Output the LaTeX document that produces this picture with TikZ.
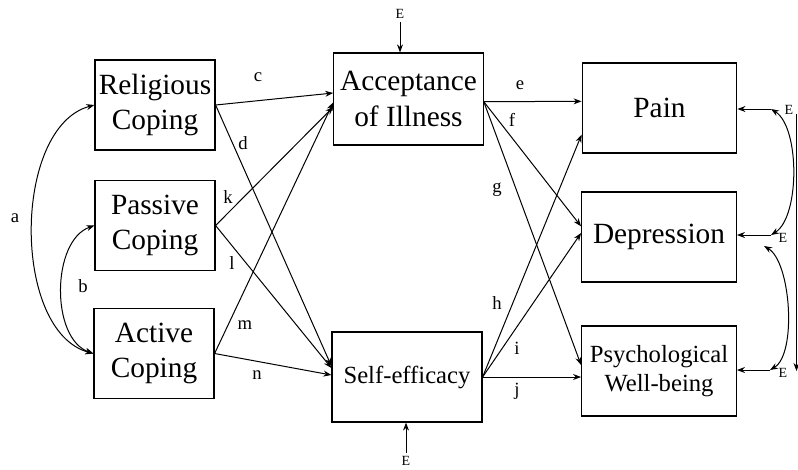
\documentclass[tikz,border=0pt]{standalone}
\usepackage{fontspec}
\setmainfont{Liberation Serif}
\usetikzlibrary{calc}
\usetikzlibrary{arrows,arrows.meta,shapes,positioning}
\tikzset{>={Stealth[length=6pt,width=4.5pt]}}
\tikzset{box/.style={draw,line width=0.9pt,align=center,inner sep=0pt,font=\fontsize{22}{26.5}\selectfont},
  smallbox/.style={box,font=\fontsize{18.5}{21.5}\selectfont},
  lbl/.style={inner sep=0pt,font=\fontsize{14}{16}\selectfont},
  err/.style={inner sep=0pt,font=\fontsize{10.5}{12}\selectfont}}

\begin{document}
\begin{tikzpicture}[x=0.75pt,y=-0.75pt,line width=0.75pt]
\useasboundingbox (0,0) rectangle (798,469);
% coping boxes
\node[box,minimum width=90pt,minimum height=67.5pt] (rel) at (155,105) {Religious\\Coping};
\node[box,minimum width=90pt,minimum height=67.5pt] (pas) at (155,225.5) {Passive\\Coping};
\node[box,minimum width=90pt,minimum height=67.5pt] (act) at (154,353.5) {Active\\Coping};
% mediators
\node[box,minimum width=112pt,minimum height=69pt] (acc) at (408.5,99) {Acceptance\\of Illness};
\node[smallbox,minimum width=112.5pt,minimum height=67.5pt] (self) at (407,377) {Self-efficacy};
% outcomes
\node[box,minimum width=116pt,minimum height=67.5pt] (pain) at (659.5,108) {Pain};
\node[box,minimum width=116pt,minimum height=67.5pt] (dep) at (659,237) {Depression};
\node[smallbox,minimum width=116pt,minimum height=67.5pt] (pwb) at (659,371) {Psychological\\Well-being};

% correlations on the left
\draw[<->] (rel.west) .. controls +(-82,22) and +(-82,-22) .. (act.west);
\draw[<->] (pas.west) .. controls +(-43,15) and +(-43,-15) .. (act.west);
\node[lbl] (la) at (15,218) {a};
\node[lbl] (lb) at (83,286) {b};

% paths to the mediators
\draw[->] (rel.east) -- ([yshift=4.5pt]acc.west);
\draw[->] (rel.east) -- ([yshift=8.25pt]self.west);
\draw[->] (pas.east) -- ([yshift=-6pt]acc.west);
\draw[->] (pas.east) -- ([yshift=6.75pt]self.west);
\draw[->] (act.east) -- ([yshift=-2.5pt]acc.west);
\draw[->] (act.east) -- ([yshift=1.5pt]self.west);
\node[lbl] (lc) at (258,77) {c};
\node[lbl] (ld) at (243,143) {d};
\node[lbl] (lk) at (228,197) {k};
\node[lbl] (ll) at (232,263) {l};
\node[lbl] (lm) at (245,325) {m};
\node[lbl] (ln) at (257,375) {n};

% paths to the outcomes
\draw[->] ([yshift=-2pt]acc.east) -- ([yshift=5pt]pain.west);
\draw[->] ([yshift=-2pt]acc.east) -- ([yshift=8pt]dep.west);
\draw[->] ([yshift=-2pt]acc.east) -- ([yshift=4.5pt]pwb.west);
\draw[->] (self.east) -- ([yshift=-20pt]pain.west);
\draw[->] (self.east) -- ([yshift=3pt]dep.west);
\draw[->] (self.east) -- ([yshift=-4.5pt]pwb.west);
\node[lbl] (le) at (520,85) {e};
\node[lbl] (lf) at (512,120) {f};
\node[lbl] (lg) at (497,190) {g};
\node[lbl] (lh) at (497,303) {h};
\node[lbl] (li) at (517,348) {i};
\node[lbl] (lj) at (517,391) {j};

% error terms
\node[err] (eA) at (400,14) {E};
\draw[->] (eA.south) ++(0,3) -- (eA |- acc.north);
\node[err] (eS) at (406,461) {E};
\draw[->] (eS.north) ++(0,-3) -- (eS |- self.south);
\node[err] (eP) at (789,110) {E};
\node[err] (eD) at (783,238) {E};
\node[err] (eW) at (783,373) {E};
\coordinate (cP) at (771,109);
\coordinate (cD) at (771,235);
\coordinate (cD2) at (764,246);
\coordinate (cW) at (770,370);
\draw[->] (cP) -- (cP -| pain.east);
\draw[->] (cD) -- (cD -| dep.east);
\draw[->] (cW) -- (cW -| pwb.east);
\draw[<->] (cP) .. controls +(29,18) and +(29,-18) .. (cD);
\draw[<->] (cD2) .. controls +(27,16) and +(27,-16) .. (cW);
\coordinate (rTop) at (796.5,114);
\coordinate (rBot) at (796.5,371);
\draw[->] (rTop) -- (rBot);
\end{tikzpicture}
\end{document}
